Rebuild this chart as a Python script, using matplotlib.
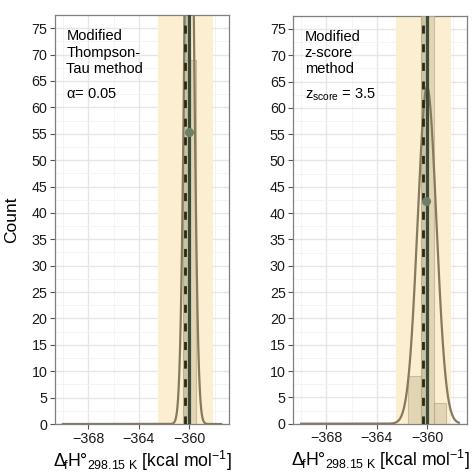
import numpy as np
import matplotlib
matplotlib.use("Agg")
import matplotlib.pyplot as plt

plt.rcParams['font.family'] = ['Liberation Sans', 'DejaVu Sans']
plt.rcParams['mathtext.fontset'] = 'custom'
plt.rcParams['mathtext.rm'] = 'Liberation Sans'
plt.rcParams['mathtext.it'] = 'Liberation Sans'

# ---- data ----
bin_centers = [-370, -369, -368, -367, -366, -365, -364, -363, -362, -361, -360, -359, -358]
counts_tau = [0, 0, 0, 0, 0, 0, 0, 0, 0, 0, 69, 0, 0]
counts_z = [0, 0, 0, 0, 0, 0, 0, 0, 0, 9, 100, 4, 0]

# fitted normal curves (mean, sd, peak height)
fit_tau = (-360.02, 0.34, 137)
fit_z = (-360.02, 0.74, 64)

accept_tau = (-362.5, -358.1)
accept_z = (-362.45, -358.1)
ref_band = (-360.48, -359.85)
mean_tau = -360.35
mean_z = -360.37
ref_tau = -360.0
ref_z = -360.05
point_tau = (-360.05, 55.3)
point_z = (-360.1, 42.3)

yticks = list(range(0, 80, 5))
xticks = [-368, -364, -360]

C_CURVE = '#857A5E'
C_BAR = '#CFC4A2'
C_BAREDGE = '#AFA383'
C_GREEN = '#3D4B38'
C_SAGE = '#A9BA9C'
C_DASH = '#2D2715'
C_YEL = '#FCEFD1'

fig = plt.figure(figsize=(4.72, 4.73), dpi=100)
ax1 = fig.add_axes([55/472, 1-424/473, 174/472, 409/473])
ax2 = fig.add_axes([293.3/472, 1-423.7/473, 173.4/472, 408/473])


def panel(ax, counts, fit, accept, mean, ref, point, ytop):
    ax.set_xlim(-370.625, -356.875)
    ax.set_ylim(0, ytop)
    ax.set_xticks(xticks)
    ax.set_xticks([-370, -366, -362, -358], minor=True)
    ax.set_yticks(yticks)
    ax.set_yticks(np.arange(2.5, 80, 5), minor=True)
    ax.grid(True, which='major', color='#E6E6E6', lw=1.0, zorder=0)
    ax.grid(True, which='minor', color='#F3F3F3', lw=0.6, zorder=0)
    ax.set_axisbelow(True)
    ax.axvspan(*accept, color=C_YEL, lw=0, zorder=1)
    ax.axvspan(*ref_band, color=C_SAGE, alpha=0.75, lw=0, zorder=2)
    ax.bar(bin_centers, counts, width=1.0, color=C_BAR, alpha=0.6,
           edgecolor=C_BAREDGE, lw=0.8, zorder=3)
    xs = np.linspace(-370, -357.5, 3000)
    m, s, p = fit
    ax.plot(xs, p*np.exp(-0.5*((xs-m)/s)**2), color=C_CURVE, lw=1.6, zorder=4)
    ax.axvline(ref, color=C_GREEN, lw=2.3, zorder=5)
    ax.axvline(mean, color=C_DASH, lw=2.0, dashes=(2.9, 3.8), zorder=6)
    ax.plot([point[0]], [point[1]], 'o', color='#6F7E68', ms=5.5, zorder=7)
    for sp in ax.spines.values():
        sp.set_color('#7F7F7F')
        sp.set_linewidth(0.9)
    ax.tick_params(which='major', length=3.5, color='#555555', labelsize=10.3,
                   labelcolor='#1A1A1A', pad=2)
    ax.tick_params(which='minor', length=0)
    ax.set_xlabel(r'$\Delta_{\!f}$H$°_{298.15\ \mathrm{K}}$ [kcal mol$^{-1}$]',
                  fontsize=12.7, labelpad=2)


panel(ax1, counts_tau, fit_tau, accept_tau, mean_tau, ref_tau, point_tau, 76.4)
panel(ax2, counts_z, fit_z, accept_z, mean_z, ref_z, point_z, 75)

ax1.set_ylabel('Count', fontsize=12.5, labelpad=9)

ax1.text(0.065, 0.965, 'Modified\nThompson-\nTau method', transform=ax1.transAxes,
         ha='left', va='top', fontsize=10.5, linespacing=1.2, zorder=8)
ax1.text(0.065, 0.806, r'$\alpha$= 0.05', transform=ax1.transAxes,
         ha='left', va='center', fontsize=10.5, zorder=8)
ax2.text(0.065, 0.965, 'Modified\nz-score\nmethod', transform=ax2.transAxes,
         ha='left', va='top', fontsize=10.5, linespacing=1.2, zorder=8)
ax2.text(0.065, 0.806, r'z$_{\mathrm{score}}$ = 3.5', transform=ax2.transAxes,
         ha='left', va='center', fontsize=10.5, zorder=8)

fig.savefig('out.png', dpi=100)
